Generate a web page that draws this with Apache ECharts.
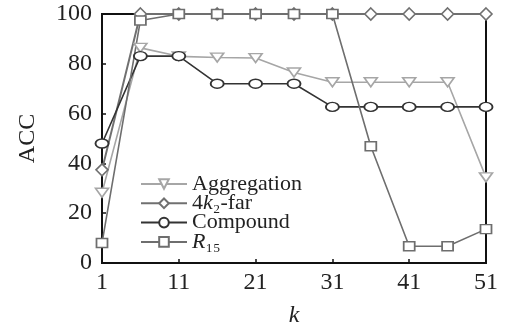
<!DOCTYPE html>
<html>
<head>
<meta charset="utf-8">
<script src="https://cdn.jsdelivr.net/npm/echarts@6/dist/echarts.min.js"></script>
<style>
  html, body { margin: 0; padding: 0; background: #fff; }
  #chart { width: 505px; height: 333px; }
</style>
</head>
<body>
<div id="chart"></div>
<script>
// k values on the x axis
const kValues = [1, 6, 11, 16, 21, 26, 31, 36, 41, 46, 51];

// ACC per data set
const aggregation = [28.2, 86.4, 83, 82.5, 82.3, 76.5, 72.6, 72.6, 72.6, 72.6, 34.4];
const fourK2Far = [37.4, 100, 100, 100, 100, 100, 100, 100, 100, 100, 100];
const compound = [48, 83.1, 83.1, 72, 72, 72, 62.7, 62.7, 62.7, 62.7, 62.7];
const r15 = [8, 97.4, 100, 100, 100, 100, 100, 46.9, 6.7, 6.7, 13.6];

const seriesNames = ["Aggregation", "4k2-far", "Compound", "R15"];

const font = "Liberation Serif, DejaVu Serif";

function pairs(values) {
  return kValues.map((k, i) => [k, values[i]]);
}

function makeSeries(name, values, color, symbol, size, rotate, width) {
  return {
    name,
    type: "line",
    data: pairs(values),
    symbol,
    symbolSize: size,
    symbolRotate: rotate,
    showAllSymbol: true,
    lineStyle: { color, width },
    itemStyle: { color: "#fff", borderColor: color, borderWidth: 1.6 },
    emphasis: { disabled: true },
    animation: false,
  };
}

const chart = echarts.init(document.getElementById("chart"));

chart.setOption({
  animation: false,
  grid: {
    left: 102,
    right: 19,
    top: 14,
    bottom: 66,
    show: true,
    borderColor: "#111",
    borderWidth: 2,
  },
  legend: {
    orient: "vertical",
    left: 140,
    top: 173,
    padding: 0,
    itemGap: -2.7,
    itemWidth: 46,
    itemHeight: 12,
    data: seriesNames,
    formatter: (name) => {
      if (name === "4k2-far") return "4{i|k}\u2082-far";
      if (name === "R15") return "{i|R}\u2081\u2085";
      return name;
    },
    textStyle: {
      fontFamily: font,
      fontSize: 22,
      color: "#222",
      lineHeight: 17,
      rich: {
        i: { fontFamily: font, fontSize: 22, fontStyle: "italic", color: "#222", lineHeight: 17 },
      },
    },
  },
  xAxis: {
    type: "value",
    min: 1,
    max: 51,
    interval: 10,
    name: "k",
    nameLocation: "middle",
    nameGap: 41,
    nameTextStyle: { fontFamily: font, fontSize: 24, fontStyle: "italic", color: "#222" },
    axisLine: { lineStyle: { color: "#111", width: 2 } },
    axisTick: { inside: true, length: 4, lineStyle: { color: "#111", width: 1.5 } },
    axisLabel: { fontFamily: font, fontSize: 24, color: "#222", margin: 8 },
    splitLine: { show: false },
  },
  yAxis: {
    type: "value",
    min: 0,
    max: 100,
    interval: 20,
    name: "ACC",
    nameLocation: "middle",
    nameGap: 62,
    nameTextStyle: { fontFamily: font, fontSize: 24, color: "#222" },
    axisLine: { show: true, lineStyle: { color: "#111", width: 2 } },
    axisTick: { show: true, inside: true, length: 4, lineStyle: { color: "#111", width: 1.5 } },
    axisLabel: { fontFamily: font, fontSize: 24, color: "#222", margin: 10 },
    splitLine: { show: false },
  },
  series: [
    makeSeries("Aggregation", aggregation, "#a6a6a6", "triangle", [13, 9], 180, 1.6),
    makeSeries("4k2-far", fourK2Far, "#707070", "diamond", [12, 12], 0, 2),
    makeSeries("Compound", compound, "#333333", "circle", [13, 9], 0, 1.6),
    makeSeries("R15", r15, "#6e6e6e", "rect", [11, 9], 0, 1.6),
  ],
});
</script>
</body>
</html>
